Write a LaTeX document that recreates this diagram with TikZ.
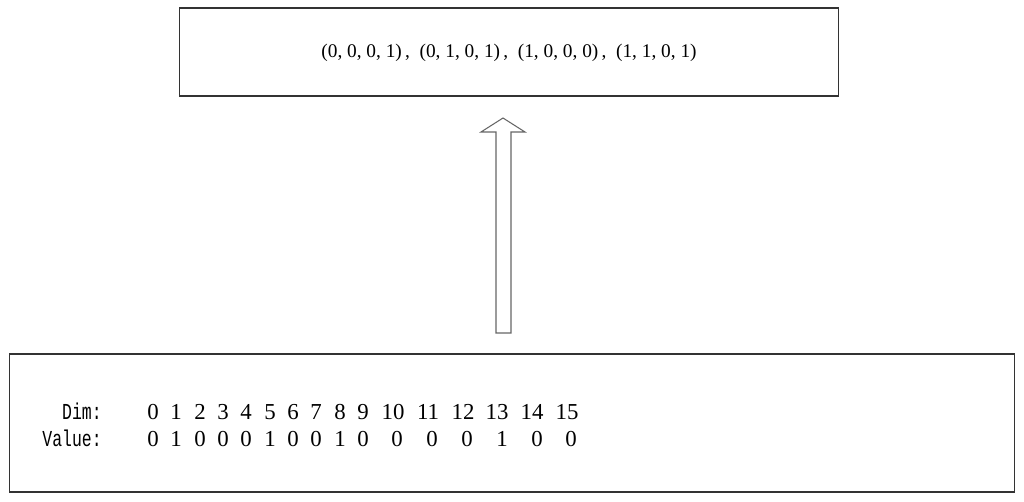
\documentclass[tikz,border=0pt]{standalone}
\usepackage{fontspec}
\setmainfont{Liberation Serif}
\newfontfamily\labelfont[FakeStretch=0.72]{Liberation Mono}
\usetikzlibrary{positioning,calc}

\tikzset{
    box/.style={draw=black!80, line width=0.6pt, inner sep=0pt},
    num/.style={font=\fontsize{13}{15}\selectfont, inner sep=0pt, anchor=base},
    hollowarrow/.style={draw=black!60, line width=0.6pt, fill=white}
}

\begin{document}
\begin{tikzpicture}[x=0.02cm,y=-0.02cm]
    \useasboundingbox (0,0) rectangle (1024,501);

    % boxes
    \node[box, minimum width=13.2cm, minimum height=1.76cm] (result) at (509,52) {};
    \node[box, minimum width=20.12cm, minimum height=2.76cm] (vector) at (512,423) {};

    \node[font=\fontsize{11}{13}\selectfont, inner sep=0pt, anchor=base] (pairs) at (509,57)
        {(0, 0, 0, 1)\,,\enspace(0, 1, 0, 1)\,,\enspace(1, 0, 0, 0)\,,\enspace(1, 1, 0, 1)};

    % hollow arrow
    \draw[hollowarrow] (496,333) -- (496,132) -- (481,132) -- (503,118)
        -- (525,132) -- (511,132) -- (511,333) -- cycle;

    % rows
    \node[num, anchor=base east] (dimlabel) at (102,419.5) {\labelfont Dim:};
    \node[num, anchor=base east] (valuelabel) at (102,446.5) {\labelfont Value:};

    \foreach \x [count=\i from 0] in {153,176,200,223,246,270,293,316,340,363,393,428,463,497,532,567}
        \node[num] (dim\i) at (\x,419.5) {\i};
    \foreach \x/\v [count=\i from 0] in {153/0,176/1,200/0,223/0,246/0,270/1,293/0,316/0,340/1,363/0,
        397/0,432/0,467/0,502/1,537/0,571/0}
        \node[num] (val\i) at (\x,446.5) {\v};
\end{tikzpicture}
\end{document}
